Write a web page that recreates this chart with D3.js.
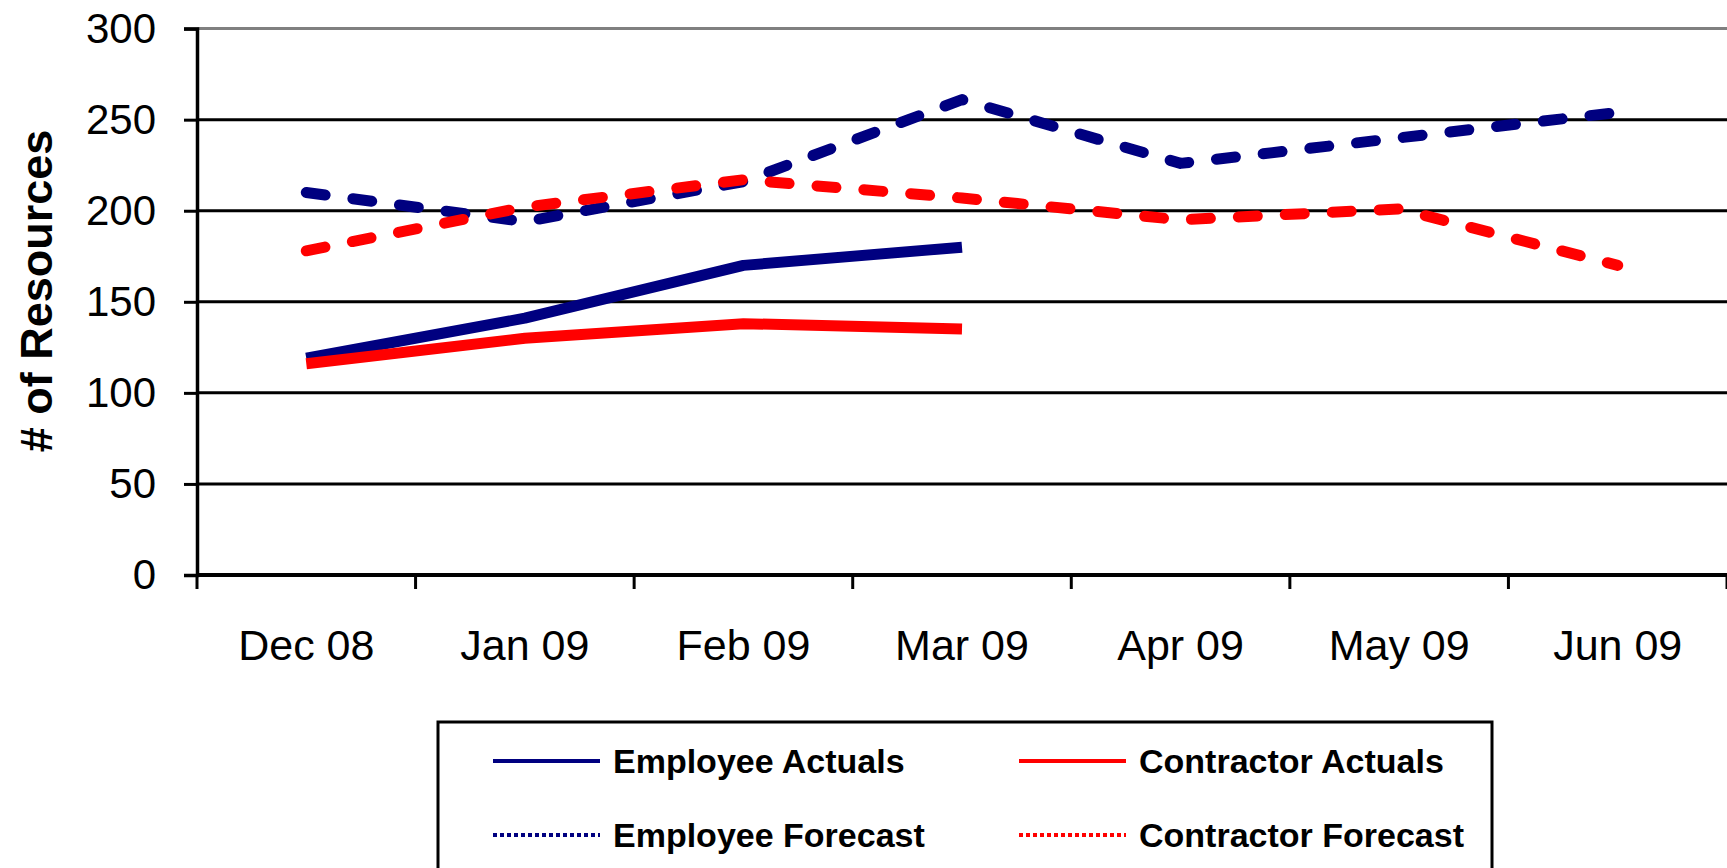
<!doctype html>
<html>
<head>
<meta charset="utf-8">
<script src="https://cdn.jsdelivr.net/npm/d3@7"></script>
<style>
html,body{
    margin: 0;
    overflow: hidden;
    background: #ffffff;
}
text {
    font-family: "Liberation Sans", Arial, sans-serif;
    fill: #000000;
}
</style>
</head>
<body>
<script>
// chart data
var months = ["Dec 08", "Jan 09", "Feb 09", "Mar 09", "Apr 09", "May 09", "Jun 09"];
var yTicks = [0, 50, 100, 150, 200, 250, 300];

var employeeActuals   = [119, 141, 170, 180, null, null, null];
var contractorActuals = [116, 130, 138, 135, null, null, null];
var employeeForecast  = [210, 194, 216, 261, 226, 240, 254];
var contractorForecast = [178, 202, 217, 207, 195, 201, 170];

var seriesNames  = ["Employee Actuals", "Contractor Actuals", "Employee Forecast", "Contractor Forecast"];
var seriesColors = ["#000080", "#ff0000", "#000080", "#ff0000"];

(function(){
    var w = 1727, h = 868;
    var left = 197, right = 1727, top = 28.6, bottom = 575;

    var svg = d3.select("body").append("svg")
        .attr("width", w)
        .attr("height", h);

    var x = d3.scaleBand().domain(months).range([left, right]).padding(0);
    var y = d3.scaleLinear().domain([0, 300]).range([bottom, top]);

    // gridlines
    svg.append("g").selectAll("line")
        .data(yTicks.filter(function(d){ return d > 0; }))
        .enter().append("line")
            .attr("x1", left).attr("x2", right)
            .attr("y1", function(d){ return y(d); })
            .attr("y2", function(d){ return y(d); })
            .attr("stroke", function(d){ return d === 300 ? "#808080" : "#000000"; })
            .attr("stroke-width", 3);

    // y axis
    var yAxis = svg.append("g")
        .attr("transform", "translate(" + left + ",0)")
        .call(d3.axisLeft(y).tickValues(yTicks).tickSize(13).tickPadding(28));
    yAxis.select(".domain").attr("stroke", "#000").attr("stroke-width", 3.5);
    yAxis.selectAll(".tick line").attr("stroke", "#000").attr("stroke-width", 3);
    yAxis.selectAll(".tick text")
        .style("font-size", "42px")
        .style("font-family", "'Liberation Sans', Arial, sans-serif");

    // x axis: labels at band centres, ticks at band edges
    var xAxis = svg.append("g")
        .attr("transform", "translate(0," + bottom + ")")
        .call(d3.axisBottom(x).tickSize(0).tickPadding(54));
    xAxis.select(".domain").remove();
    xAxis.selectAll(".tick text")
        .style("font-size", "43px")
        .style("font-family", "'Liberation Sans', Arial, sans-serif");

    svg.append("line")
        .attr("x1", left).attr("x2", right)
        .attr("y1", bottom).attr("y2", bottom)
        .attr("stroke", "#000").attr("stroke-width", 4);

    svg.append("g").selectAll("line")
        .data(months.concat(["end"]))
        .enter().append("line")
            .attr("x1", function(d, i){ return left + i * x.step(); })
            .attr("x2", function(d, i){ return left + i * x.step(); })
            .attr("y1", bottom).attr("y2", bottom + 14)
            .attr("stroke", "#000").attr("stroke-width", 3);

    // axis title
    svg.append("text")
        .attr("transform", "translate(52,291) rotate(-90)")
        .attr("text-anchor", "middle")
        .style("font-size", "45px")
        .style("font-weight", "bold")
        .text("# of Resources");

    // data lines
    var line = d3.line()
        .defined(function(d){ return d !== null; })
        .x(function(d, i){ return x(months[i]) + x.bandwidth() / 2; })
        .y(function(d){ return y(d); });

    var allSeries = [employeeActuals, contractorActuals, employeeForecast, contractorForecast];
    var drawOrder = [0, 2, 1, 3];

    drawOrder.forEach(function(k){
        svg.append("path")
            .datum(allSeries[k])
            .attr("d", line)
            .attr("fill", "none")
            .attr("stroke", seriesColors[k])
            .attr("stroke-width", 11)
            .attr("stroke-linejoin", "round")
            .attr("stroke-linecap", k < 2 ? "butt" : "round")
            .attr("stroke-dasharray", k < 2 ? null : "19,28");
    });

    // legend
    var legend = svg.append("g");
    legend.append("rect")
        .attr("x", 438).attr("y", 722)
        .attr("width", 1054).attr("height", 160)
        .attr("fill", "#ffffff")
        .attr("stroke", "#000").attr("stroke-width", 3);

    var colX = [493, 1019], rowY = [761, 835];
    seriesNames.forEach(function(name, k){
        var cx = colX[k % 2], cy = rowY[Math.floor(k / 2)];
        legend.append("line")
            .attr("x1", cx).attr("x2", cx + 107)
            .attr("y1", cy).attr("y2", cy)
            .attr("stroke", seriesColors[k])
            .attr("stroke-width", 4)
            .attr("stroke-dasharray", k < 2 ? null : "4,3");
        legend.append("text")
            .attr("x", cx + 120).attr("y", cy)
            .attr("dy", "0.36em")
            .style("font-size", "34px")
            .style("font-weight", "bold")
            .text(name);
    });
})();
</script>
</body>
</html>
